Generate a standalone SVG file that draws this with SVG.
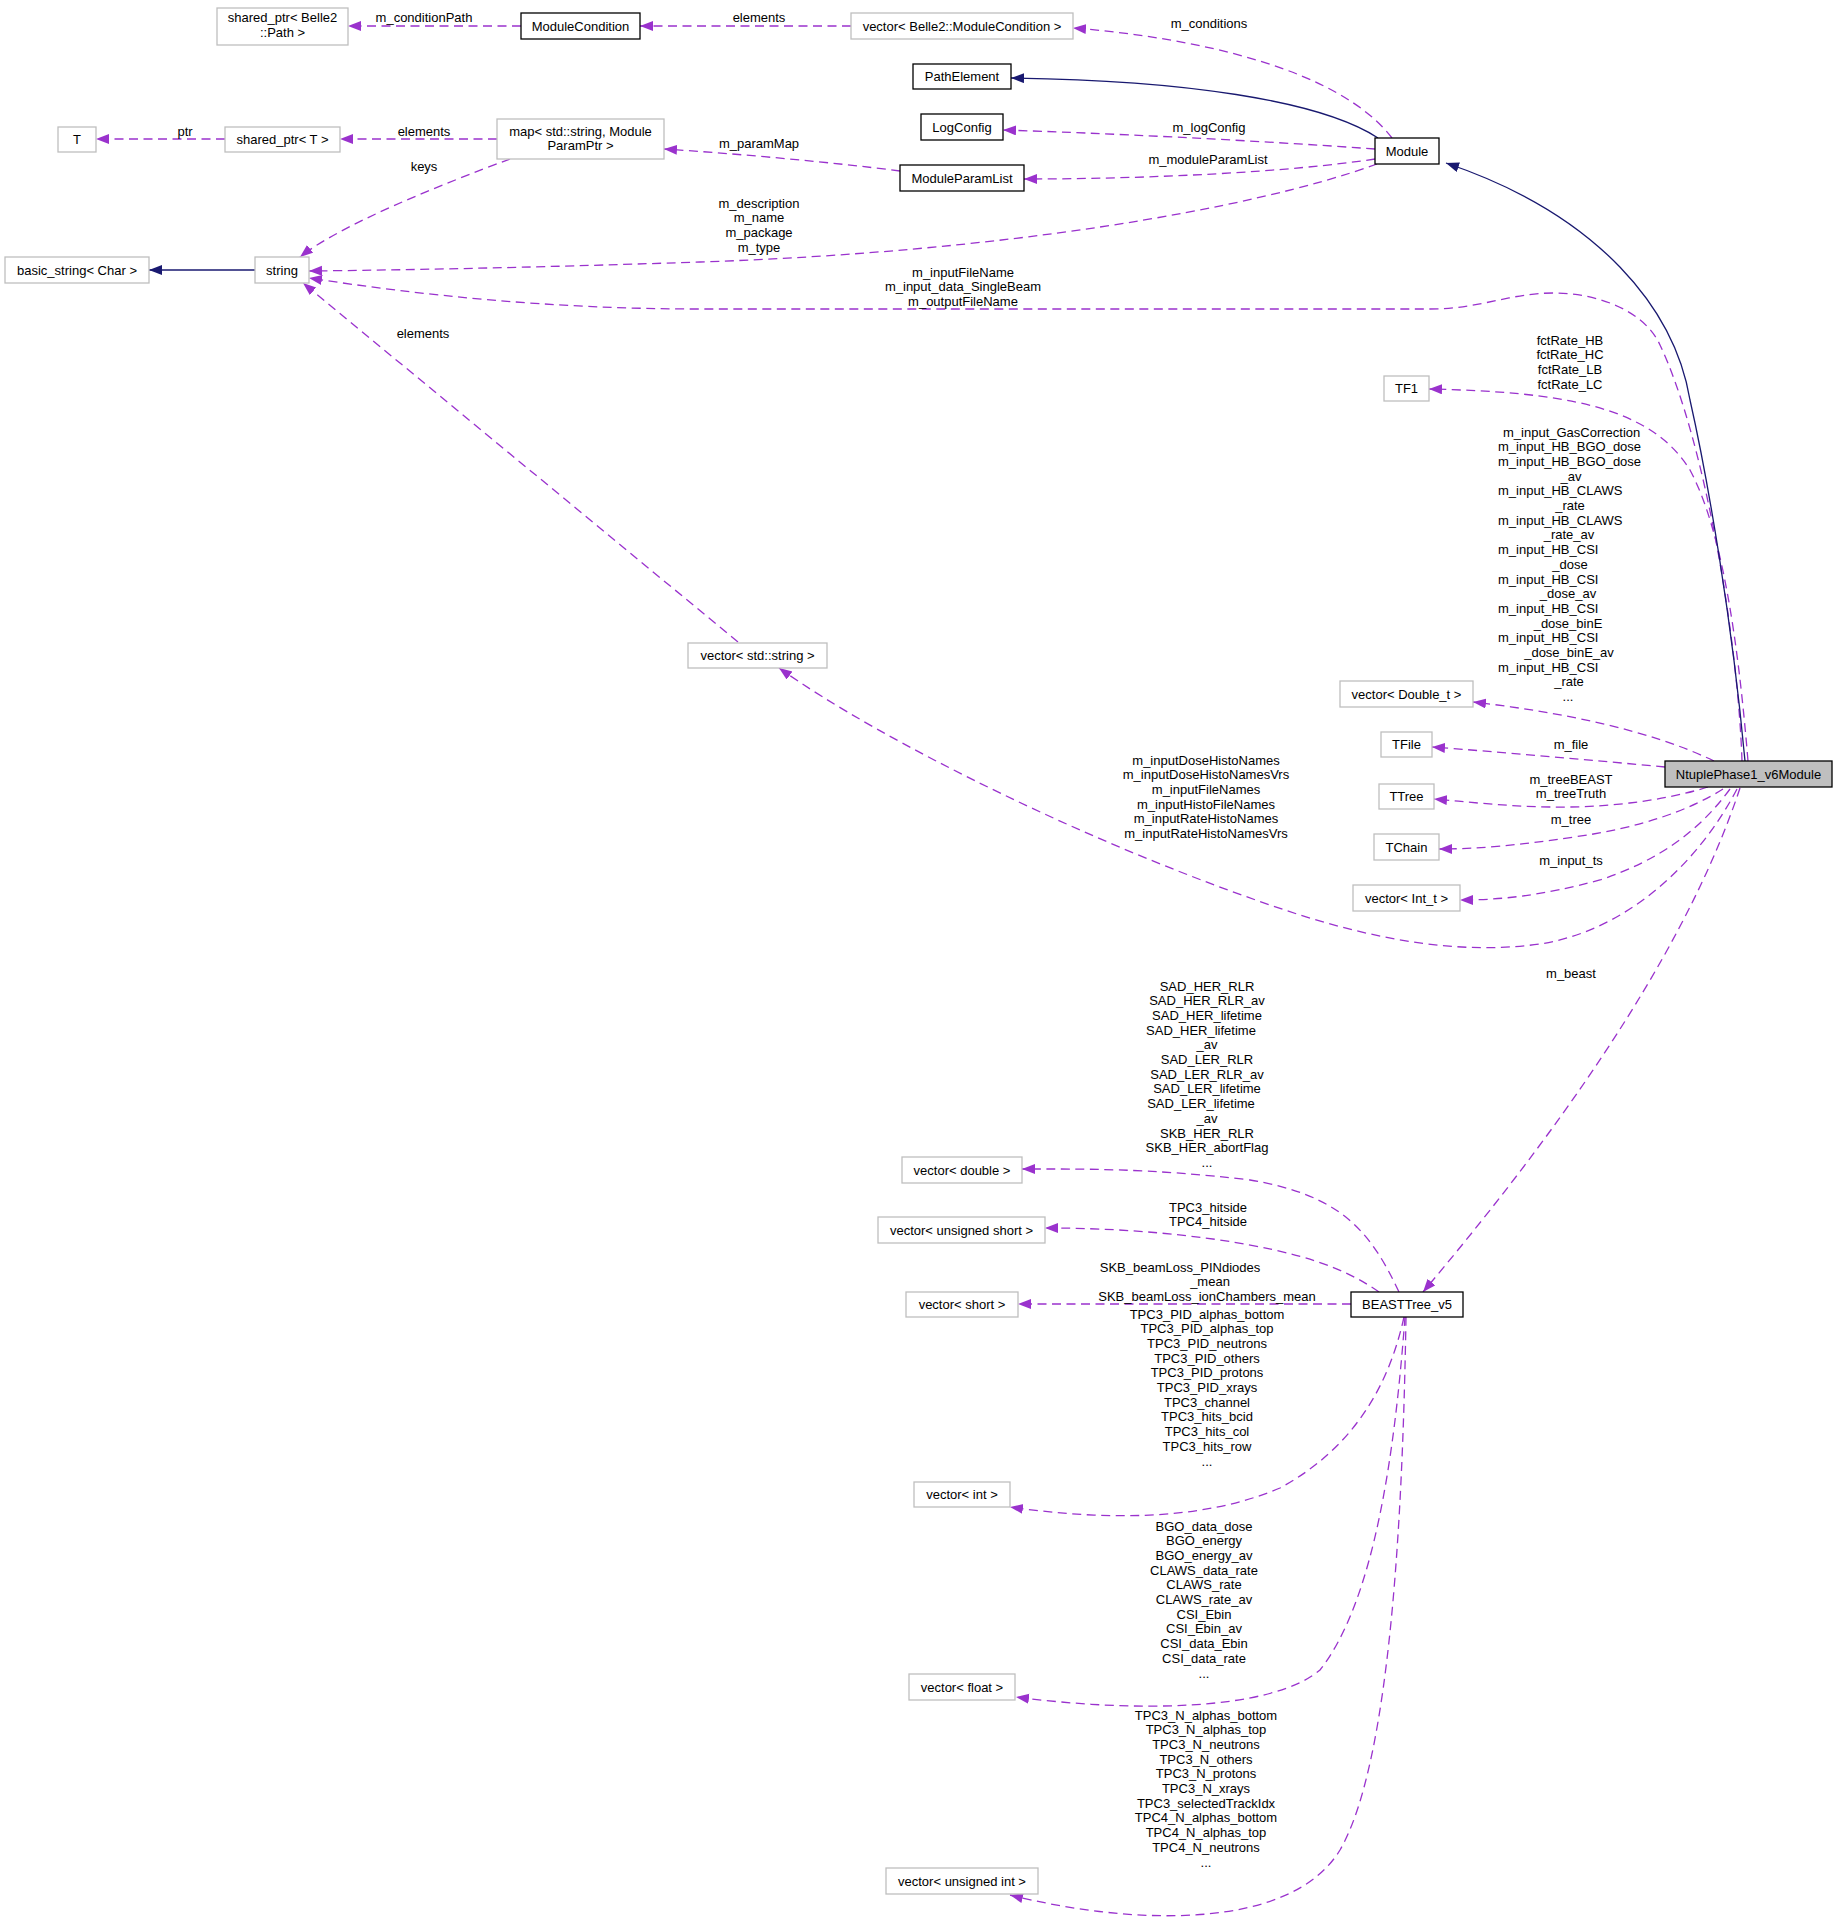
<svg xmlns="http://www.w3.org/2000/svg" width="1837" height="1926" viewBox="0 0 1837 1926">
<style>
.n{fill:#fff;stroke:#000;stroke-width:1.3}
.g{fill:#fff;stroke:#bfbfbf;stroke-width:1.3}
.s{fill:#bfbfbf;stroke:#000;stroke-width:1.3}
.e{fill:none;stroke:#9a32cd;stroke-width:1.3;stroke-dasharray:9,5.5;marker-end:url(#ap)}
.i{fill:none;stroke:#191970;stroke-width:1.3;marker-end:url(#an)}
text{font-family:"Liberation Sans",Arial,Helvetica,sans-serif;font-size:13px;fill:#000}
.c{text-anchor:middle}
</style>
<defs>
<marker id="ap" markerUnits="userSpaceOnUse" markerWidth="14" markerHeight="11" refX="13" refY="5" orient="auto"><path d="M0,0 L13,5 L0,10 z" fill="#9a32cd"/></marker>
<marker id="an" markerUnits="userSpaceOnUse" markerWidth="14" markerHeight="11" refX="13" refY="5" orient="auto"><path d="M0,0 L13,5 L0,10 z" fill="#191970"/></marker>
</defs>
<rect width="1837" height="1926" fill="#fff"/>
<g id="connectors">
<path class="e" d="M521,26 L348,26"/>
<path class="e" d="M851,26 L640,26"/>
<path class="e" d="M1392,138 C1340,70 1200,38 1073,28"/>
<path class="i" d="M1378,138 C1320,100 1180,80 1011,78"/>
<path class="e" d="M1375,149 C1250,140 1100,133 1003,130"/>
<path class="e" d="M1375,159 C1290,172 1150,179 1024,179"/>
<path class="e" d="M900,171 C830,162 740,154 664,149"/>
<path class="e" d="M497,139 L340,139"/>
<path class="e" d="M225,139 L96,139"/>
<path class="e" d="M510,159 C440,185 340,225 300,257"/>
<path class="i" d="M255,270 L149,270"/>
<path class="e" d="M1377,164 C1250,210 1000,252 700,262 C520,268 400,270 309,271"/>
<path class="e" d="M1742,761 C1738,640 1705,440 1660,345 C1645,312 1600,293 1553,293 C1510,293 1480,309 1430,309 L700,309 C550,309 420,295 309,278"/>
<path class="e" d="M1748,761 C1738,640 1722,530 1690,470 C1650,405 1560,392 1429,389"/>
<path class="e" d="M1714,761 C1650,730 1560,712 1473,702"/>
<path class="e" d="M1665,767 C1590,760 1500,752 1432,747"/>
<path class="e" d="M1708,787 C1660,802 1600,808 1550,807 C1500,806 1470,802 1434,799"/>
<path class="e" d="M1723,789 C1690,810 1640,828 1574,837 C1520,845 1480,849 1439,849"/>
<path class="e" d="M1730,789 C1700,830 1660,860 1600,880 C1540,896 1500,900 1460,900"/>
<path class="e" d="M1737,789 C1700,860 1630,930 1540,944 C1460,955 1380,940 1300,915 C1100,850 880,740 779,668"/>
<path class="e" d="M738,642 L303,283"/>
<path class="i" d="M1745,761 C1732,620 1708,480 1690,400 C1675,310 1600,215 1446,163"/>
<path class="e" d="M1740,788 Q1670,1000 1423,1292"/>
<path class="e" d="M1399,1292 C1370,1230 1340,1195 1250,1180 C1150,1168 1080,1169 1022,1169"/>
<path class="e" d="M1379,1292 C1345,1268 1300,1252 1220,1240 C1150,1230 1090,1228 1045,1228"/>
<path class="e" d="M1351,1304 L1018,1304"/>
<path class="e" d="M1404,1317 C1388,1390 1350,1450 1280,1488 C1200,1522 1100,1520 1010,1507"/>
<path class="e" d="M1405,1317 C1395,1450 1375,1600 1320,1670 C1270,1712 1130,1712 1016,1697"/>
<path class="e" d="M1406,1317 C1403,1500 1392,1760 1340,1850 C1290,1932 1130,1925 1010,1895"/>
</g>
<g id="labels">
<text class="c" x="424" y="21.5">m_conditionPath</text>
<text class="c" x="759" y="21.5">elements</text>
<text class="c" x="1209" y="27.5">m_conditions</text>
<text class="c" x="1209" y="131.5">m_logConfig</text>
<text class="c" x="1208" y="163.5">m_moduleParamList</text>
<text class="c" x="759" y="147.5">m_paramMap</text>
<text class="c" x="424" y="135.5">elements</text>
<text class="c" x="185" y="135.5">ptr</text>
<text class="c" x="424" y="170.5">keys</text>
<text class="c" x="759" y="207.5"><tspan x="759">m_description</tspan><tspan x="759" dy="14.7">m_name</tspan><tspan x="759" dy="14.7">m_package</tspan><tspan x="759" dy="14.7">m_type</tspan></text>
<text class="c" x="963" y="276.5"><tspan x="963">m_inputFileName</tspan><tspan x="963" dy="14.7">m_input_data_SingleBeam</tspan><tspan x="963" dy="14.7">m_outputFileName</tspan></text>
<text class="c" x="423" y="337.5">elements</text>
<text class="c" x="1570" y="344.5"><tspan x="1570">fctRate_HB</tspan><tspan x="1570" dy="14.7">fctRate_HC</tspan><tspan x="1570" dy="14.7">fctRate_LB</tspan><tspan x="1570" dy="14.7">fctRate_LC</tspan></text>
<text x="1503" y="436.5">m_input_GasCorrection</text>
<text x="1498" y="451.2">m_input_HB_BGO_dose</text>
<text x="1498" y="465.9">m_input_HB_BGO_dose</text>
<text class="c" x="1571" y="480.6">_av</text>
<text x="1498" y="495.3">m_input_HB_CLAWS</text>
<text class="c" x="1570" y="510">_rate</text>
<text x="1498" y="524.7">m_input_HB_CLAWS</text>
<text class="c" x="1569" y="539.4">_rate_av</text>
<text x="1498" y="554.1">m_input_HB_CSI</text>
<text class="c" x="1570" y="568.8">_dose</text>
<text x="1498" y="583.5">m_input_HB_CSI</text>
<text class="c" x="1568" y="598.2">_dose_av</text>
<text x="1498" y="612.9">m_input_HB_CSI</text>
<text class="c" x="1568" y="627.6">_dose_binE</text>
<text x="1498" y="642.3">m_input_HB_CSI</text>
<text class="c" x="1569" y="657">_dose_binE_av</text>
<text x="1498" y="671.7">m_input_HB_CSI</text>
<text class="c" x="1569" y="686.4">_rate</text>
<text class="c" x="1568" y="701.1">...</text>
<text class="c" x="1571" y="748.5">m_file</text>
<text class="c" x="1571" y="783.5"><tspan x="1571">m_treeBEAST</tspan><tspan x="1571" dy="14.5">m_treeTruth</tspan></text>
<text class="c" x="1571" y="823.5">m_tree</text>
<text class="c" x="1571" y="864.5">m_input_ts</text>
<text class="c" x="1571" y="977.5">m_beast</text>
<text class="c" x="1206" y="764.5"><tspan x="1206">m_inputDoseHistoNames</tspan><tspan x="1206" dy="14.7">m_inputDoseHistoNamesVrs</tspan><tspan x="1206" dy="14.7">m_inputFileNames</tspan><tspan x="1206" dy="14.7">m_inputHistoFileNames</tspan><tspan x="1206" dy="14.7">m_inputRateHistoNames</tspan><tspan x="1206" dy="14.7">m_inputRateHistoNamesVrs</tspan></text>
<text class="c" x="1207" y="990.5"><tspan x="1207">SAD_HER_RLR</tspan><tspan x="1207" dy="14.7">SAD_HER_RLR_av</tspan><tspan x="1207" dy="14.7">SAD_HER_lifetime</tspan><tspan x="1201" dy="14.7">SAD_HER_lifetime</tspan><tspan x="1207" dy="14.7">_av</tspan><tspan x="1207" dy="14.7">SAD_LER_RLR</tspan><tspan x="1207" dy="14.7">SAD_LER_RLR_av</tspan><tspan x="1207" dy="14.7">SAD_LER_lifetime</tspan><tspan x="1201" dy="14.7">SAD_LER_lifetime</tspan><tspan x="1207" dy="14.7">_av</tspan><tspan x="1207" dy="14.7">SKB_HER_RLR</tspan><tspan x="1207" dy="14.7">SKB_HER_abortFlag</tspan><tspan x="1207" dy="14.7">...</tspan></text>
<text class="c" x="1208" y="1211.5"><tspan x="1208">TPC3_hitside</tspan><tspan x="1208" dy="14.7">TPC4_hitside</tspan></text>
<text class="c" x="1180" y="1271.5">SKB_beamLoss_PINdiodes</text>
<text class="c" x="1210" y="1286.2">_mean</text>
<text class="c" x="1207" y="1300.9">SKB_beamLoss_ionChambers_mean</text>
<text class="c" x="1207" y="1318.5"><tspan x="1207">TPC3_PID_alphas_bottom</tspan><tspan x="1207" dy="14.7">TPC3_PID_alphas_top</tspan><tspan x="1207" dy="14.7">TPC3_PID_neutrons</tspan><tspan x="1207" dy="14.7">TPC3_PID_others</tspan><tspan x="1207" dy="14.7">TPC3_PID_protons</tspan><tspan x="1207" dy="14.7">TPC3_PID_xrays</tspan><tspan x="1207" dy="14.7">TPC3_channel</tspan><tspan x="1207" dy="14.7">TPC3_hits_bcid</tspan><tspan x="1207" dy="14.7">TPC3_hits_col</tspan><tspan x="1207" dy="14.7">TPC3_hits_row</tspan><tspan x="1207" dy="14.7">...</tspan></text>
<text class="c" x="1204" y="1530.5"><tspan x="1204">BGO_data_dose</tspan><tspan x="1204" dy="14.7">BGO_energy</tspan><tspan x="1204" dy="14.7">BGO_energy_av</tspan><tspan x="1204" dy="14.7">CLAWS_data_rate</tspan><tspan x="1204" dy="14.7">CLAWS_rate</tspan><tspan x="1204" dy="14.7">CLAWS_rate_av</tspan><tspan x="1204" dy="14.7">CSI_Ebin</tspan><tspan x="1204" dy="14.7">CSI_Ebin_av</tspan><tspan x="1204" dy="14.7">CSI_data_Ebin</tspan><tspan x="1204" dy="14.7">CSI_data_rate</tspan><tspan x="1204" dy="14.7">...</tspan></text>
<text class="c" x="1206" y="1719.5"><tspan x="1206">TPC3_N_alphas_bottom</tspan><tspan x="1206" dy="14.7">TPC3_N_alphas_top</tspan><tspan x="1206" dy="14.7">TPC3_N_neutrons</tspan><tspan x="1206" dy="14.7">TPC3_N_others</tspan><tspan x="1206" dy="14.7">TPC3_N_protons</tspan><tspan x="1206" dy="14.7">TPC3_N_xrays</tspan><tspan x="1206" dy="14.7">TPC3_selectedTrackIdx</tspan><tspan x="1206" dy="14.7">TPC4_N_alphas_bottom</tspan><tspan x="1206" dy="14.7">TPC4_N_alphas_top</tspan><tspan x="1206" dy="14.7">TPC4_N_neutrons</tspan><tspan x="1206" dy="14.7">...</tspan></text>
</g>
<g id="shared_ptr_belle2_path"><rect class="g" x="217" y="8" width="131" height="37"/><text class="c" x="282.5" y="22">shared_ptr&lt; Belle2</text><text class="c" x="282.5" y="37">::Path &gt;</text></g>
<g id="ModuleCondition"><rect class="n" x="521" y="13" width="119" height="26"/><text class="c" x="580.5" y="30.5">ModuleCondition</text></g>
<g id="vector_ModuleCondition"><rect class="g" x="851" y="13" width="222" height="26"/><text class="c" x="962" y="30.5">vector&lt; Belle2::ModuleCondition &gt;</text></g>
<g id="PathElement"><rect class="n" x="913" y="64" width="98" height="25"/><text class="c" x="962" y="81">PathElement</text></g>
<g id="LogConfig"><rect class="n" x="921" y="114" width="82" height="26"/><text class="c" x="962" y="131.5">LogConfig</text></g>
<g id="ModuleParamList"><rect class="n" x="900" y="165" width="124" height="26"/><text class="c" x="962" y="182.5">ModuleParamList</text></g>
<g id="Module"><rect class="n" x="1375" y="138" width="64" height="26"/><text class="c" x="1407" y="155.5">Module</text></g>
<g id="T"><rect class="g" x="58" y="127" width="38" height="25"/><text class="c" x="77" y="144">T</text></g>
<g id="shared_ptr_T"><rect class="g" x="225" y="127" width="115" height="25"/><text class="c" x="282.5" y="144">shared_ptr&lt; T &gt;</text></g>
<g id="map_string_ModuleParamPtr"><rect class="g" x="497" y="119" width="167" height="40"/><text class="c" x="580.5" y="135.5">map&lt; std::string, Module</text><text class="c" x="580.5" y="150">ParamPtr &gt;</text></g>
<g id="basic_string"><rect class="g" x="5" y="257" width="144" height="26"/><text class="c" x="77" y="274.5">basic_string&lt; Char &gt;</text></g>
<g id="string"><rect class="g" x="255" y="257" width="54" height="26"/><text class="c" x="282" y="274.5">string</text></g>
<g id="TF1"><rect class="g" x="1384" y="376" width="45" height="25"/><text class="c" x="1406.5" y="393">TF1</text></g>
<g id="vector_Double_t"><rect class="g" x="1340" y="681" width="133" height="26"/><text class="c" x="1406.5" y="698.5">vector&lt; Double_t &gt;</text></g>
<g id="TFile"><rect class="g" x="1381" y="732" width="51" height="25"/><text class="c" x="1406.5" y="749">TFile</text></g>
<g id="TTree"><rect class="g" x="1379" y="784" width="55" height="25"/><text class="c" x="1406.5" y="801">TTree</text></g>
<g id="TChain"><rect class="g" x="1374" y="834" width="65" height="26"/><text class="c" x="1406.5" y="851.5">TChain</text></g>
<g id="vector_Int_t"><rect class="g" x="1353" y="885" width="107" height="26"/><text class="c" x="1406.5" y="902.5">vector&lt; Int_t &gt;</text></g>
<g id="NtuplePhase1_v6Module"><rect class="s" x="1665" y="761" width="167" height="26"/><text class="c" x="1748.5" y="778.5">NtuplePhase1_v6Module</text></g>
<g id="vector_std_string"><rect class="g" x="688" y="643" width="139" height="25"/><text class="c" x="757.5" y="660">vector&lt; std::string &gt;</text></g>
<g id="BEASTTree_v5"><rect class="n" x="1351" y="1292" width="112" height="25"/><text class="c" x="1407" y="1309">BEASTTree_v5</text></g>
<g id="vector_double"><rect class="g" x="902" y="1157" width="120" height="26"/><text class="c" x="962" y="1174.5">vector&lt; double &gt;</text></g>
<g id="vector_unsigned_short"><rect class="g" x="878" y="1217" width="167" height="26"/><text class="c" x="961.5" y="1234.5">vector&lt; unsigned short &gt;</text></g>
<g id="vector_short"><rect class="g" x="906" y="1292" width="112" height="25"/><text class="c" x="962" y="1309">vector&lt; short &gt;</text></g>
<g id="vector_int"><rect class="g" x="914" y="1482" width="96" height="25"/><text class="c" x="962" y="1499">vector&lt; int &gt;</text></g>
<g id="vector_float"><rect class="g" x="909" y="1674" width="106" height="26"/><text class="c" x="962" y="1691.5">vector&lt; float &gt;</text></g>
<g id="vector_unsigned_int"><rect class="g" x="886" y="1868" width="152" height="26"/><text class="c" x="962" y="1885.5">vector&lt; unsigned int &gt;</text></g>
</svg>
